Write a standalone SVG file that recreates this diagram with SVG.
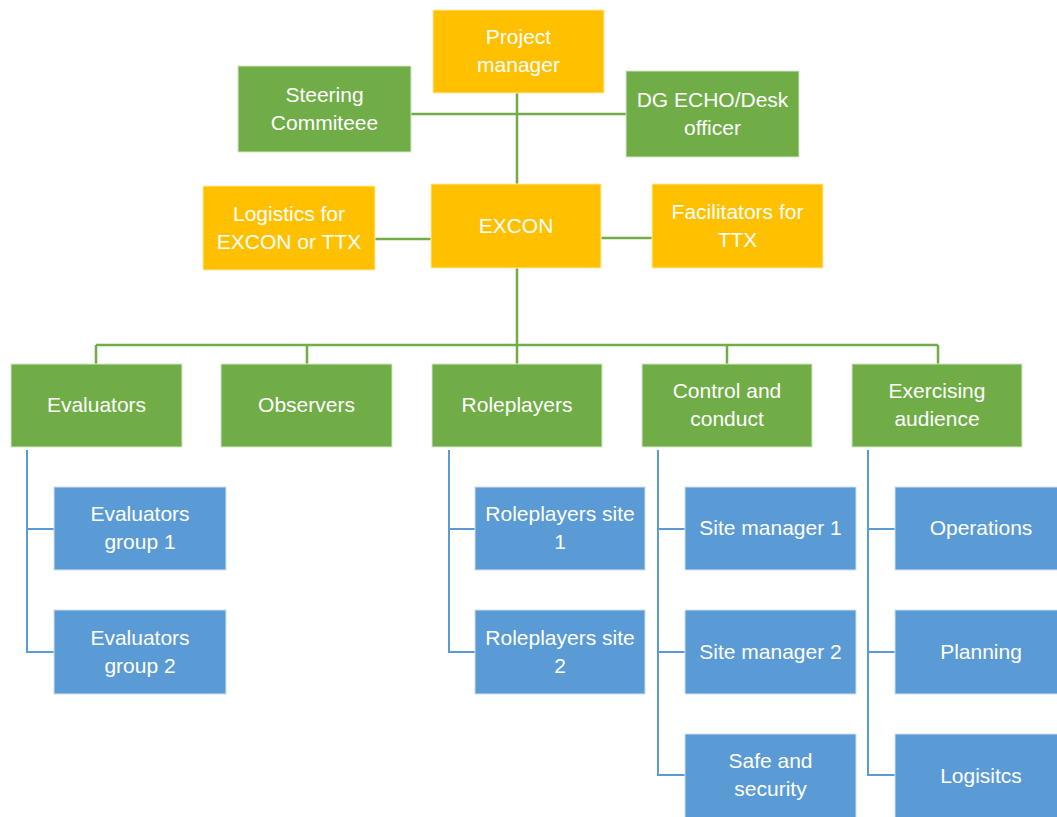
<svg xmlns="http://www.w3.org/2000/svg" width="1057" height="817" viewBox="0 0 1057 817">
<style>
.o{fill:#FFC000;stroke:#FFE9A8;stroke-width:1}
.g{fill:#70AD47;stroke:#D4E6C8;stroke-width:1}
.b{fill:#5B9BD5;stroke:#CFE0F2;stroke-width:1}
text{font-family:"Liberation Sans",Arial,sans-serif;font-size:21px;fill:#FFFFFF;text-anchor:middle}
.gl{stroke:#70AD47;stroke-width:2.5;fill:none}
.bl{stroke:#5B9BD5;stroke-width:2;fill:none}
</style>
<rect width="1057" height="817" fill="#FFFFFF"/>
<g id="connectors">
<path class="gl" d="M517,93V184M411,114H626M375,239H431M601,238H652M517,268V345M96,345H938M96,345V364M307,345V364M517,345V364M727,345V364M938,345V364"/>
<path class="bl" d="M27,450V652H54M27,529H54M449,450V652H475M449,529H475M658,450V775H685M658,529H685M658,652H685M868,450V775H895M868,529H895M868,652H895"/>
</g>
<g id="project-manager"><rect class="o" x="433" y="10" width="171" height="83"/><text x="518.5" y="44">Project</text><text x="518.5" y="72">manager</text></g>
<g id="steering"><rect class="g" x="238" y="66" width="173" height="86"/><text x="324.5" y="102">Steering</text><text x="324.5" y="130">Commiteee</text></g>
<g id="dg-echo"><rect class="g" x="626" y="71" width="173" height="86"/><text x="712.5" y="107">DG ECHO/Desk</text><text x="712.5" y="135">officer</text></g>
<g id="logistics-excon"><rect class="o" x="203" y="186" width="172" height="84"/><text x="289" y="221">Logistics for</text><text x="289" y="249">EXCON or TTX</text></g>
<g id="excon"><rect class="o" x="431" y="184" width="170" height="84"/><text x="516" y="233">EXCON</text></g>
<g id="facilitators"><rect class="o" x="652" y="184" width="171" height="84"/><text x="737.5" y="219">Facilitators for</text><text x="737.5" y="247">TTX</text></g>
<g id="evaluators"><rect class="g" x="11" y="364" width="171" height="83"/><text x="96.5" y="412">Evaluators</text></g>
<g id="observers"><rect class="g" x="221" y="364" width="171" height="83"/><text x="306.5" y="412">Observers</text></g>
<g id="roleplayers"><rect class="g" x="432" y="364" width="170" height="83"/><text x="517" y="412">Roleplayers</text></g>
<g id="control"><rect class="g" x="642" y="364" width="170" height="83"/><text x="727" y="398">Control and</text><text x="727" y="426">conduct</text></g>
<g id="exercising"><rect class="g" x="852" y="364" width="170" height="83"/><text x="937" y="398">Exercising</text><text x="937" y="426">audience</text></g>
<g id="eval-g1"><rect class="b" x="54" y="487" width="172" height="83"/><text x="140" y="521">Evaluators</text><text x="140" y="549">group 1</text></g>
<g id="eval-g2"><rect class="b" x="54" y="610" width="172" height="84"/><text x="140" y="645">Evaluators</text><text x="140" y="673">group 2</text></g>
<g id="rp-site1"><rect class="b" x="475" y="487" width="170" height="83"/><text x="560" y="521">Roleplayers site</text><text x="560" y="549">1</text></g>
<g id="rp-site2"><rect class="b" x="475" y="610" width="170" height="84"/><text x="560" y="645">Roleplayers site</text><text x="560" y="673">2</text></g>
<g id="site-mgr1"><rect class="b" x="685" y="487" width="171" height="83"/><text x="770.5" y="535">Site manager 1</text></g>
<g id="site-mgr2"><rect class="b" x="685" y="610" width="171" height="84"/><text x="770.5" y="659">Site manager 2</text></g>
<g id="safe"><rect class="b" x="685" y="734" width="171" height="84"/><text x="770.5" y="768">Safe and</text><text x="770.5" y="796">security</text></g>
<g id="operations"><rect class="b" x="895" y="487" width="170" height="83"/><text x="981" y="535">Operations</text></g>
<g id="planning"><rect class="b" x="895" y="610" width="170" height="84"/><text x="981" y="659">Planning</text></g>
<g id="logisitcs"><rect class="b" x="895" y="734" width="170" height="84"/><text x="981" y="783">Logisitcs</text></g>
</svg>
